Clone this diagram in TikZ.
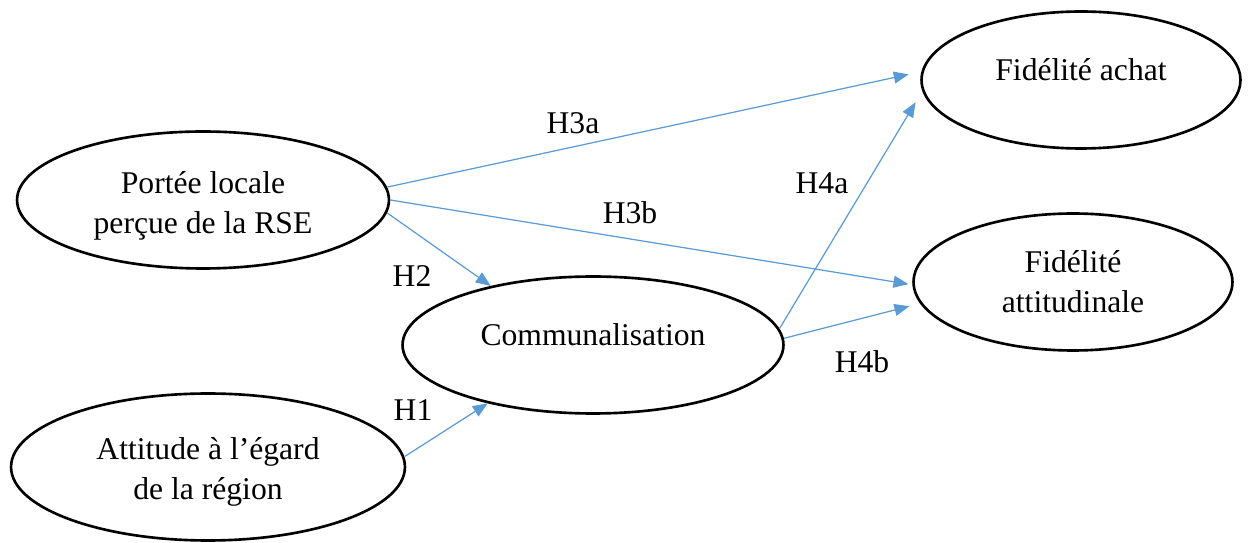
\documentclass[tikz,border=0pt]{standalone}
\usepackage{fontspec}
\setmainfont{Liberation Serif}
\usepackage{tikz}
\usetikzlibrary{arrows.meta, shapes.geometric}
\definecolor{Wordblue}{RGB}{91,155,213}

\begin{document}
\begin{tikzpicture}[x=0.02cm, y=-0.02cm, font=\fontsize{18pt}{22.7pt}\selectfont,
  oval/.style={ellipse, draw, line width=1.5pt, inner sep=0pt, align=center},
  hyp/.style={Wordblue, line width=0.7pt, -{Triangle[length=8.5pt,width=6.8pt]}}]
\useasboundingbox (0,0) rectangle (1248,543);
\node[oval, minimum width=7.44cm, minimum height=2.74cm, text height=42pt] (portee) at (203,200) {Portée locale\\perçue de la RSE};
\node[oval, minimum width=7.62cm, minimum height=2.74cm, text depth=12pt] (commun) at (593,345) {Communalisation};
\node[oval, minimum width=7.88cm, minimum height=2.94cm, text height=41pt] (attitude) at (208,467) {Attitude à l’égard\\de la région};
\node[oval, minimum width=6.38cm, minimum height=2.74cm, text depth=12pt] (achat) at (1081,80) {Fidélité achat};
\node[oval, minimum width=6.38cm, minimum height=2.74cm] (attitudinale) at (1073,282) {Fidélité\\attitudinale};
% hypotheses
\foreach \a/\b/\s in {portee.4/achat.177/0.26cm, portee.east/attitudinale.181/0.08cm,
  portee.-4/commun.150/0cm, attitude.3/commun.209/0cm,
  commun.5/achat.184/0.26cm, commun.2/attitudinale.188/0.22cm}
{\draw[hyp, shorten >=\s] (\a) -- (\b);}
\foreach \n/\x/\y in {H3a/573/123, H3b/630/213, H2/412/276, H1/413/410, H4a/822/183, H4b/862/362}
{\node (\n) at (\x,\y) {\n};}
\end{tikzpicture}
\end{document}
